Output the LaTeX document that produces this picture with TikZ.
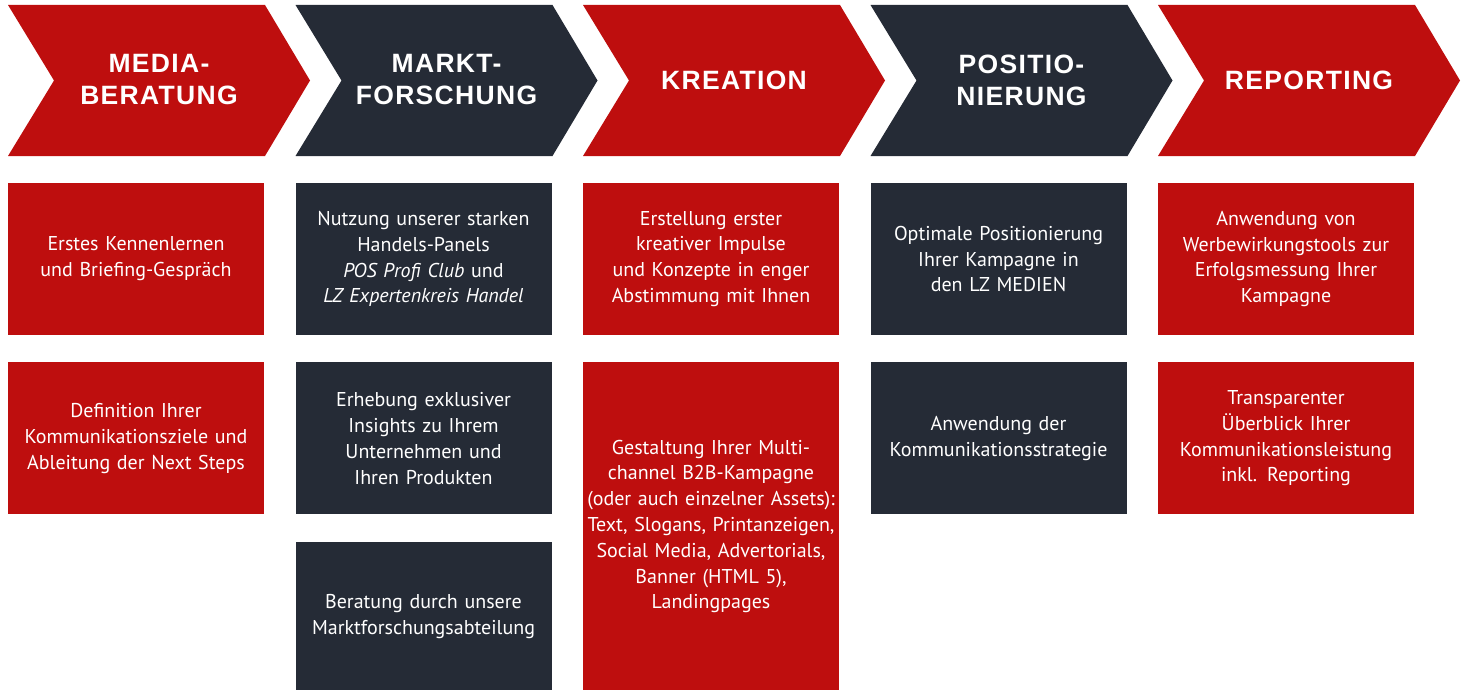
\documentclass[tikz,border=0pt]{standalone}
\usepackage{fontspec}
\setmainfont{PT Sans}
\newfontfamily\headfont[LetterSpace=5]{Liberation Sans}
\usetikzlibrary{positioning}
\definecolor{lzred}{RGB}{190,14,14}
\definecolor{lzdark}{RGB}{37,43,54}
\tikzset{
  chevtext/.style={text=white,align=center,font=\headfont\bfseries\fontsize{26.5}{32}\selectfont},
  infobox/.style={minimum width=256pt,inner sep=0pt,text width=256pt,align=center,text=white,font=\fontsize{20}{25.8}\selectfont},
}
\begin{document}
\begin{tikzpicture}[x=1pt,y=-1pt]
\useasboundingbox (0,0) rectangle (1461,690);
% chevrons
\foreach \i/\col/\name/\title in {0/lzred/media/{MEDIA-\\BERATUNG},1/lzdark/markt/{MARKT-\\FORSCHUNG},2/lzred/krea/{KREATION},3/lzdark/posi/{POSITIO-\\NIERUNG},4/lzred/repo/{REPORTING}}{
  \pgfmathsetmacro{\x}{8+287.5*\i}
  \fill[\col] (\x,5) -- ++(257,0) -- ++(45,75.5) -- ++(-45,75.5) -- ++(-257,0) -- ++(46,-75.5) -- cycle;
  \node[chevtext] (\name) at (\x+151,80) {\title};
}
% first row
\node[infobox,fill=lzred,minimum height=152pt] (media1) at (136,259) {Erstes Kennenlernen\\und Briefing-Gespräch};
\node[infobox,fill=lzdark,minimum height=152pt] (markt1) at (423.5,259) {Nutzung unserer starken\\Handels-Panels\\\textit{POS Profi Club} und\\\textit{LZ Expertenkreis Handel}};
\node[infobox,fill=lzred,minimum height=152pt] (krea1) at (711,259) {Erstellung erster\\kreativer Impulse\\und Konzepte in enger\\Abstimmung mit Ihnen};
\node[infobox,fill=lzdark,minimum height=152pt] (posi1) at (998.5,259) {Optimale Positionierung\\Ihrer Kampagne in\\den LZ MEDIEN};
\node[infobox,fill=lzred,minimum height=152pt] (repo1) at (1286,259) {Anwendung von\\Werbewirkungstools zur\\Erfolgsmessung Ihrer\\Kampagne};
% second row
\node[infobox,fill=lzred,minimum height=152pt,below=27pt of media1] (media2) {Definition Ihrer\\Kommunikationsziele und\\Ableitung der Next Steps};
\node[infobox,fill=lzdark,minimum height=152pt,below=27pt of markt1] (markt2) {Erhebung exklusiver\\Insights zu Ihrem\\Unternehmen und\\Ihren Produkten};
\node[infobox,fill=lzred,minimum height=328pt,below=27pt of krea1] (krea2) {Gestaltung Ihrer Multi-\\channel B2B-Kampagne\\(oder auch einzelner Assets):\\Text, Slogans, Printanzeigen,\\Social Media, Advertorials,\\Banner (HTML 5),\\Landingpages};
\node[infobox,fill=lzdark,minimum height=152pt,below=27pt of posi1] (posi2) {Anwendung der\\Kommunikationsstrategie};
\node[infobox,fill=lzred,minimum height=152pt,below=27pt of repo1] (repo2) {Transparenter\\Überblick Ihrer\\Kommunikationsleistung\\inkl. Reporting};
% third row
\node[infobox,fill=lzdark,minimum height=149pt,below=27pt of markt2] (markt3) {Beratung durch unsere\\Marktforschungsabteilung};
\end{tikzpicture}
\end{document}
